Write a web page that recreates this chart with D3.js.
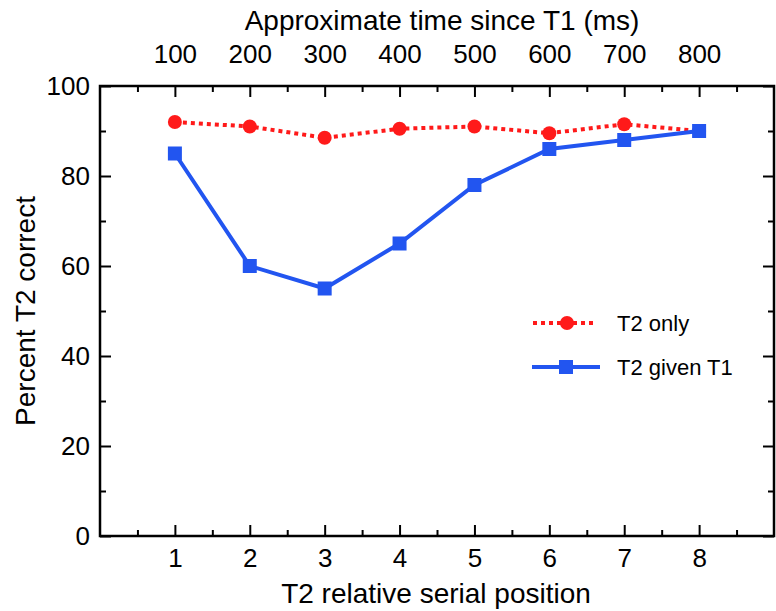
<!DOCTYPE html>
<html>
<head>
<meta charset="utf-8">
<script src="https://cdn.jsdelivr.net/npm/d3@7"></script>
<style>
  body { margin: 0; background: #fff; }
  svg { font-family: "Liberation Sans", Arial, Helvetica, sans-serif; }
</style>
</head>
<body>
<div id="container"></div>
<script>
// Data
const positions = [1, 2, 3, 4, 5, 6, 7, 8];
const timeLabels = ["100", "200", "300", "400", "500", "600", "700", "800"];
const t2Only = [92, 91, 88.5, 90.5, 91, 89.5, 91.5, 90];
const t2GivenT1 = [85, 60, 55, 65, 78, 86, 88, 90];

const width = 776;
const height = 611;
const marginTop = 86;
const marginRight = 2;
const marginBottom = 75;
const marginLeft = 100;

const red = "#ff1a1a";
const blue = "#2255f0";

const svg = d3.create("svg").attr("width", width).attr("height", height);

const x = d3.scaleLinear().domain([0, 9]).range([marginLeft, width - marginRight]);
const y = d3.scaleLinear().domain([0, 100]).range([height - marginBottom, marginTop]);

// Axes with inward ticks
function styleAxis(g) {
  g.select(".domain").remove();
  g.selectAll(".tick line").attr("stroke-width", 2);
  g.selectAll(".tick text").attr("font-size", 26).attr("fill", "#000");
}

const minorX = d3.range(0.5, 9, 1);
const minorY = d3.range(10, 100, 20);

// bottom
svg.append("g")
  .attr("transform", `translate(0,${y(0)})`)
  .call(d3.axisBottom(x).tickValues(positions).tickSizeInner(-11).tickSizeOuter(0).tickPadding(13))
  .call(styleAxis);
svg.append("g")
  .attr("transform", `translate(0,${y(0)})`)
  .call(d3.axisBottom(x).tickValues(minorX).tickSizeInner(-6).tickSizeOuter(0).tickFormat(""))
  .call(styleAxis);

// top
svg.append("g")
  .attr("transform", `translate(0,${y(100)})`)
  .call(d3.axisTop(x).tickValues(positions).tickFormat((d, i) => timeLabels[i])
    .tickSizeInner(-11).tickSizeOuter(0).tickPadding(23))
  .call(styleAxis);
svg.append("g")
  .attr("transform", `translate(0,${y(100)})`)
  .call(d3.axisTop(x).tickValues(minorX).tickSizeInner(-6).tickSizeOuter(0).tickFormat(""))
  .call(styleAxis);

// left
svg.append("g")
  .attr("transform", `translate(${x(0)},0)`)
  .call(d3.axisLeft(y).tickValues(d3.range(0, 101, 20)).tickSizeInner(-11).tickSizeOuter(0).tickPadding(10))
  .call(styleAxis);
svg.append("g")
  .attr("transform", `translate(${x(0)},0)`)
  .call(d3.axisLeft(y).tickValues(minorY).tickSizeInner(-6).tickSizeOuter(0).tickFormat(""))
  .call(styleAxis);

// right
svg.append("g")
  .attr("transform", `translate(${x(9)},0)`)
  .call(d3.axisRight(y).tickValues(d3.range(0, 101, 20)).tickSizeInner(-11).tickSizeOuter(0).tickFormat(""))
  .call(styleAxis);
svg.append("g")
  .attr("transform", `translate(${x(9)},0)`)
  .call(d3.axisRight(y).tickValues(minorY).tickSizeInner(-6).tickSizeOuter(0).tickFormat(""))
  .call(styleAxis);

// frame
svg.append("rect")
  .attr("x", x(0)).attr("y", y(100))
  .attr("width", x(9) - x(0)).attr("height", y(0) - y(100))
  .attr("fill", "none").attr("stroke", "#000").attr("stroke-width", 2.5);

const line = d3.line().x((d, i) => x(positions[i])).y(d => y(d));

// T2 only (red, dotted, circles)
svg.append("path")
  .datum(t2Only)
  .attr("fill", "none").attr("stroke", red).attr("stroke-width", 4)
  .attr("stroke-dasharray", "4,4")
  .attr("d", line);
svg.append("g").selectAll("circle")
  .data(t2Only)
  .join("circle")
  .attr("cx", (d, i) => x(positions[i]))
  .attr("cy", d => y(d))
  .attr("r", 7)
  .attr("fill", red);

// T2 given T1 (blue, solid, squares)
svg.append("path")
  .datum(t2GivenT1)
  .attr("fill", "none").attr("stroke", blue).attr("stroke-width", 4)
  .attr("d", line);
svg.append("g").selectAll("rect")
  .data(t2GivenT1)
  .join("rect")
  .attr("x", (d, i) => x(positions[i]) - 7)
  .attr("y", d => y(d) - 7)
  .attr("width", 14).attr("height", 14)
  .attr("fill", blue);

// legend
const legend = svg.append("g");
legend.append("line")
  .attr("x1", 533).attr("x2", 593).attr("y1", 323).attr("y2", 323)
  .attr("stroke", red).attr("stroke-width", 4).attr("stroke-dasharray", "4,4");
legend.append("circle").attr("cx", 567).attr("cy", 323).attr("r", 7).attr("fill", red);
legend.append("text").attr("x", 617).attr("y", 323).attr("dy", "0.35em")
  .attr("font-size", 22).text("T2 only");

legend.append("line")
  .attr("x1", 532).attr("x2", 600).attr("y1", 367).attr("y2", 367)
  .attr("stroke", blue).attr("stroke-width", 4);
legend.append("rect").attr("x", 559).attr("y", 360).attr("width", 14).attr("height", 14).attr("fill", blue);
legend.append("text").attr("x", 617).attr("y", 367).attr("dy", "0.35em")
  .attr("font-size", 22).text("T2 given T1");

// axis titles
svg.append("text")
  .attr("x", 436).attr("y", 603)
  .attr("text-anchor", "middle").attr("font-size", 28)
  .text("T2 relative serial position");

svg.append("text")
  .attr("x", 442).attr("y", 30)
  .attr("text-anchor", "middle").attr("font-size", 28)
  .text("Approximate time since T1 (ms)");

svg.append("text")
  .attr("transform", `translate(35,${(y(0) + y(100)) / 2}) rotate(-90)`)
  .attr("text-anchor", "middle").attr("font-size", 28)
  .text("Percent T2 correct");

document.getElementById("container").append(svg.node());
</script>
</body>
</html>
